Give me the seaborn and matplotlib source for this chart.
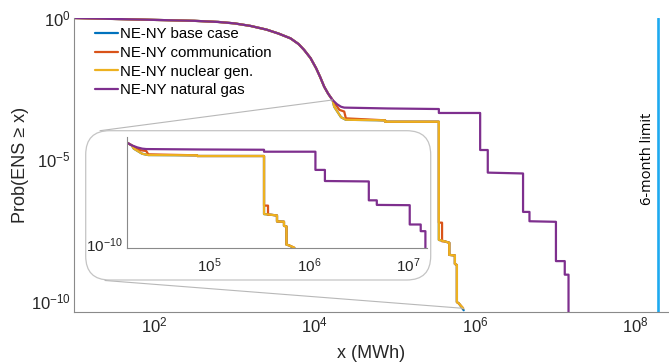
import numpy as np
import pandas as pd
import matplotlib
matplotlib.use("Agg")
import matplotlib.pyplot as plt
import seaborn as sns
from matplotlib.patches import FancyBboxPatch, ConnectionPatch
from matplotlib.ticker import LogLocator, NullFormatter, NullLocator, FixedLocator

sns.set_theme(style="white")
plt.rcParams["font.family"] = ["Liberation Sans", "DejaVu Sans"]
plt.rcParams["mathtext.fontset"] = "custom"
plt.rcParams["mathtext.rm"] = "Liberation Sans"
plt.rcParams["mathtext.it"] = "Liberation Sans:italic"
plt.rcParams["axes.unicode_minus"] = False

# Exceedance curves, stored as log10(energy not served in MWh) and log10(probability)
head_lx = [1.0, 1.3, 1.6, 1.9, 2.2, 2.5, 2.8, 3.0, 3.2, 3.4, 3.55, 3.7, 3.8,
           3.87, 3.95, 4.02, 4.07, 4.12, 4.17, 4.224]
head_ly = [0.0, -0.02, -0.04, -0.06, -0.08, -0.10, -0.14, -0.19, -0.28, -0.41,
           -0.55, -0.72, -0.92, -1.13, -1.42, -1.78, -2.09, -2.43, -2.68, -2.90]

gas_tail_lx = [4.28, 4.33, 4.37, 4.91, 5.55, 5.55, 6.065, 6.065, 6.16, 6.16, 6.6,
               6.6, 6.68, 6.68, 7.01, 7.01, 7.12, 7.12, 7.167, 7.167]
gas_tail_ly = [-3.05, -3.14, -3.17, -3.20, -3.22, -3.36, -3.36, -4.67, -4.67, -5.47,
               -5.50, -6.86, -6.86, -7.19, -7.21, -8.60, -8.60, -9.08, -9.08, -11.0]

nuclear_tail_lx = [4.245, 4.33, 4.39, 4.88, 4.88, 5.55, 5.55, 5.62, 5.68, 5.68,
                   5.75, 5.75, 5.775, 5.775, 5.80, 5.853]
nuclear_tail_ly = [-3.14, -3.51, -3.60, -3.62, -3.67, -3.67, -7.85, -7.90, -7.95,
                   -8.38, -8.40, -8.70, -8.74, -10.05, -10.10, -10.27]

comm_tail_lx = [4.31, 4.37, 4.39, 4.88, 4.88, 5.55, 5.55, 5.59, 5.59, 5.62, 5.68,
                5.68, 5.75, 5.75, 5.775, 5.775, 5.80, 5.853]
comm_tail_ly = [-3.25, -3.31, -3.55, -3.62, -3.67, -3.67, -7.24, -7.24, -7.90, -7.90,
                -7.95, -8.38, -8.40, -8.70, -8.74, -10.05, -10.10, -10.27]

base_tail_lx = [4.245, 4.33, 4.39, 4.88, 4.88, 5.55, 5.55, 5.62, 5.68, 5.68,
                5.75, 5.75, 5.775, 5.775, 5.80, 5.86]
base_tail_ly = [-3.14, -3.51, -3.60, -3.62, -3.67, -3.67, -7.85, -7.90, -7.95,
                -8.38, -8.40, -8.70, -8.74, -10.05, -10.10, -10.34]

six_month_limit_mwh = 1.94e8

series_names = ["NE-NY base case", "NE-NY communication",
                "NE-NY nuclear gen.", "NE-NY natural gas"]
series_colors = ["#0072BD", "#D95319", "#EDB120", "#7E2F8E"]
series_tails = [(base_tail_lx, base_tail_ly), (comm_tail_lx, comm_tail_ly),
                (nuclear_tail_lx, nuclear_tail_ly), (gas_tail_lx, gas_tail_ly)]

frames = []
for name, (tlx, tly) in zip(series_names, series_tails):
    lx = np.array(head_lx + tlx)
    ly = np.array(head_ly + tly)
    frames.append(pd.DataFrame({"x": 10.0 ** lx, "p": 10.0 ** ly, "case": name,
                                "order": np.arange(len(lx))}))
curves = pd.concat(frames, ignore_index=True)

W, H = 669, 364
fig = plt.figure(figsize=(W / 100, H / 100), dpi=100)
fig.patch.set_facecolor("white")

spine_col = "#8a8a8a"
text_col = "#262626"


def px_axes(left, top, right, bottom):
    return [left / W, 1 - bottom / H, (right - left) / W, (bottom - top) / H]


ax = fig.add_axes(px_axes(74, 18, 669, 311.7))
ax.set_xscale("log")
ax.set_yscale("log")

for name, col in zip(series_names, series_colors):
    sub = curves[curves["case"] == name]
    sns.lineplot(data=sub, x="x", y="p", sort=False, estimator=None, ax=ax,
                 color=col, lw=1.6, label=name)

ax.axvline(six_month_limit_mwh, color="#1EAAF0", lw=1.9)
ax.text(10 ** 8.15, 1e-5, "6-month limit", rotation=90, ha="center", va="center",
        fontsize=10.5, family=["Open Sans", "DejaVu Sans"], color="black")

ax.set_xlim(10, 10 ** 8.42)
ax.set_ylim(10 ** -10.39, 1.0)

xmaj = [10.0 ** k for k in range(1, 9)]
ax.xaxis.set_major_locator(FixedLocator(xmaj))
ax.set_xticklabels(["" if k % 2 else "$10^{%d}$" % k for k in range(1, 9)])
ax.xaxis.set_minor_locator(LogLocator(base=10, subs=np.arange(2, 10), numticks=100))
ax.xaxis.set_minor_formatter(NullFormatter())
ymaj = [10.0 ** -k for k in range(0, 11)]
ax.yaxis.set_major_locator(FixedLocator(ymaj))
ax.set_yticklabels(["$10^{%d}$" % (-k) if k % 5 == 0 else "" for k in range(0, 11)])
ax.yaxis.set_minor_locator(NullLocator())

for s in ["top", "right"]:
    ax.spines[s].set_visible(False)
for s in ["left", "bottom"]:
    ax.spines[s].set_color(spine_col)
    ax.spines[s].set_linewidth(0.8)
ax.tick_params(which="both", direction="in", color=spine_col, labelcolor=text_col,
               labelsize=12, width=0.6)
ax.tick_params(which="major", length=4.3, pad=2.5)
ax.tick_params(which="minor", length=2.2)

ax.set_xlabel("x (MWh)", fontsize=13, color=text_col)
ax.set_ylabel("Prob(ENS ≥ x)", fontsize=13, color=text_col)
ax.xaxis.set_label_coords(0.5, (311.7 - 345) / 293.7)
ax.yaxis.set_label_coords((29 - 74) / 595, 0.5)
ax.xaxis.label.set_va("top")

leg = ax.legend(loc="upper left", bbox_to_anchor=((95 - 74) / 595, (311.7 - 27) / 293.7),
                frameon=False, fontsize=10.8, handlelength=1.55, handletextpad=0.1,
                labelspacing=0.32, borderpad=0, borderaxespad=0)
for t in leg.get_texts():
    t.set_color("black")

# rounded frame behind the magnified view
box = FancyBboxPatch((0.857, (H - 280) / 100), 3.45, (280 - 130.7) / 100,
                     boxstyle="round,pad=0,rounding_size=0.24",
                     transform=fig.dpi_scale_trans, facecolor="white",
                     edgecolor="#c4c4c4", lw=0.9, zorder=1)
fig.add_artist(box)

axin = fig.add_axes(px_axes(127.3, 136.7, 426.7, 247.7))
axin.set_zorder(3)
axin.patch.set_alpha(0)
axin.set_xscale("log")
axin.set_yscale("log")
for name, col in zip(series_names, series_colors):
    sub = curves[curves["case"] == name]
    sns.lineplot(data=sub, x="x", y="p", sort=False, estimator=None, ax=axin,
                 color=col, lw=1.6, legend=False)
axin.set_xlim(10 ** 4.18, 10 ** 7.18)
axin.set_ylim(10 ** -10.27, 10 ** -2.28)
axin.set_xlabel("")
axin.set_ylabel("")
axin.xaxis.set_major_locator(FixedLocator([1e5, 1e6, 1e7]))
axin.set_xticklabels(["$10^{5}$", "$10^{6}$", "$10^{7}$"])
axin.xaxis.set_minor_locator(LogLocator(base=10, subs=np.arange(2, 10), numticks=100))
axin.xaxis.set_minor_formatter(NullFormatter())
axin.yaxis.set_major_locator(FixedLocator([10.0 ** -k for k in range(3, 11)]))
axin.set_yticklabels(["$10^{-10}$" if k == 10 else "" for k in range(3, 11)])
axin.yaxis.set_minor_locator(NullLocator())
for s in ["top", "right"]:
    axin.spines[s].set_visible(False)
for s in ["left", "bottom"]:
    axin.spines[s].set_color(spine_col)
    axin.spines[s].set_linewidth(0.8)
axin.tick_params(which="both", direction="in", color=spine_col, labelcolor=text_col,
                 labelsize=11, width=0.6)
axin.tick_params(which="major", length=3.5)
axin.tick_params(axis="x", pad=6)
axin.tick_params(axis="y", pad=3)
axin.tick_params(which="minor", length=2.0)

# guide lines from the magnified region of the main curves to the frame
start_pt = (10 ** head_lx[-1], 10 ** head_ly[-1])
end_pt = (10 ** nuclear_tail_lx[-1], 10 ** nuclear_tail_ly[-1])
for xy_a, xy_b in [(start_pt, (1.00, (H - 130.7) / 100)),
                   (end_pt, (1.05, (H - 280.5) / 100))]:
    con = ConnectionPatch(xyA=xy_a, coordsA=ax.transData, xyB=xy_b,
                          coordsB=fig.dpi_scale_trans, color="#b8b8b8", lw=0.8,
                          zorder=2)
    fig.add_artist(con)

fig.savefig("out.png", dpi=100, facecolor="white")
